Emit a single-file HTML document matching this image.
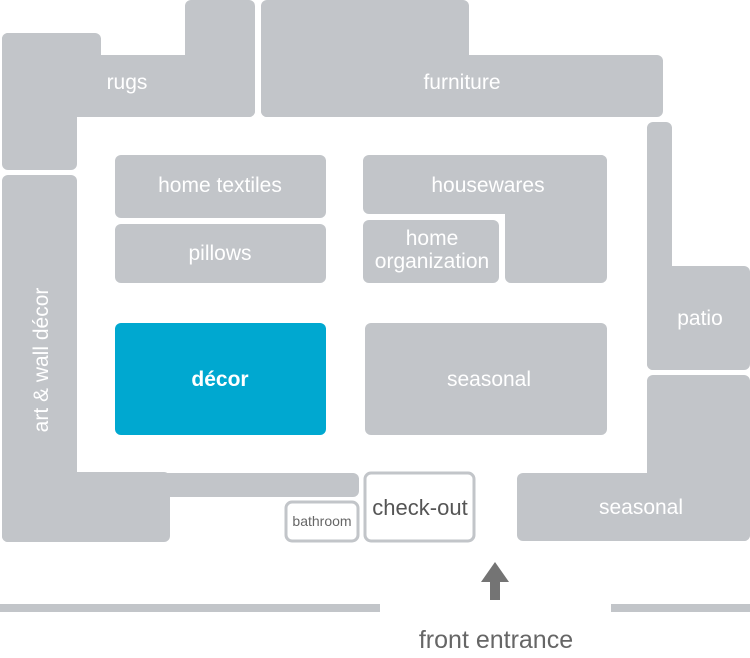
<!DOCTYPE html>
<html><head><meta charset="utf-8"><style>
html,body{margin:0;padding:0;background:#fff;}
svg{display:block;}
text{font-family:"Liberation Sans",sans-serif;}
</style></head><body>
<svg width="750" height="658" viewBox="0 0 750 658" xmlns="http://www.w3.org/2000/svg">
<g fill="#c2c5c9">
<!-- rugs -->
<rect x="2" y="33" width="99" height="60" rx="6"/>
<rect x="2" y="33" width="75" height="137" rx="6"/>
<rect x="2" y="55" width="253" height="62" rx="6"/>
<rect x="185" y="0" width="70" height="117" rx="6"/>
<!-- furniture -->
<rect x="261" y="0" width="208" height="117" rx="6"/>
<rect x="261" y="55" width="402" height="62" rx="6"/>
<!-- patio -->
<rect x="647" y="122" width="25" height="248" rx="6"/>
<rect x="647" y="266" width="103" height="104" rx="6"/>
<!-- seasonal right -->
<rect x="647" y="375" width="103" height="166" rx="6"/>
<rect x="517" y="473" width="233" height="68" rx="6"/>
<!-- art & wall -->
<rect x="2" y="175" width="75" height="367" rx="6"/>
<rect x="2" y="472" width="168" height="70" rx="6"/>
<rect x="60" y="473" width="299" height="24" rx="6"/>
<!-- center -->
<rect x="115" y="155" width="211" height="63" rx="6"/>
<rect x="115" y="224" width="211" height="59" rx="6"/>
<rect x="363" y="155" width="244" height="59" rx="6"/>
<rect x="505" y="155" width="102" height="128" rx="6"/>
<rect x="363" y="220" width="136" height="63" rx="6"/>
<rect x="365" y="323" width="242" height="112" rx="6"/>
<!-- entrance lines -->
<rect x="0" y="604" width="380" height="8"/>
<rect x="611" y="604" width="139" height="8"/>
</g>
<rect x="115" y="323" width="211" height="112" rx="6" fill="#00a8d0"/>
<rect x="286" y="502" width="72" height="39" rx="6" fill="#fff" stroke="#c2c5c9" stroke-width="3"/>
<rect x="365" y="473" width="109" height="68" rx="6" fill="#fff" stroke="#c2c5c9" stroke-width="3"/>
<polygon points="495,562 509,582 500,582 500,600 490,600 490,582 481,582" fill="#747474"/>
<g fill="#fff" font-size="21" text-anchor="middle">
<text x="127" y="89">rugs</text>
<text x="462" y="89">furniture</text>
<text x="220" y="192">home textiles</text>
<text x="220" y="260">pillows</text>
<text x="488" y="192">housewares</text>
<text x="432" y="245">home</text>
<text x="432" y="268">organization</text>
<text x="489" y="386">seasonal</text>
<text x="700" y="325">patio</text>
<text x="641" y="514">seasonal</text>
<text x="220" y="386" font-weight="bold">décor</text>
<text transform="translate(48,360) rotate(-90)">art &amp; wall décor</text>
</g>
<text x="322" y="526" font-size="14" fill="#666" text-anchor="middle">bathroom</text>
<text x="420" y="515" font-size="22" fill="#555" text-anchor="middle">check-out</text>
<text x="496" y="648" font-size="25" fill="#666" text-anchor="middle">front entrance</text>
</svg>
</body></html>
